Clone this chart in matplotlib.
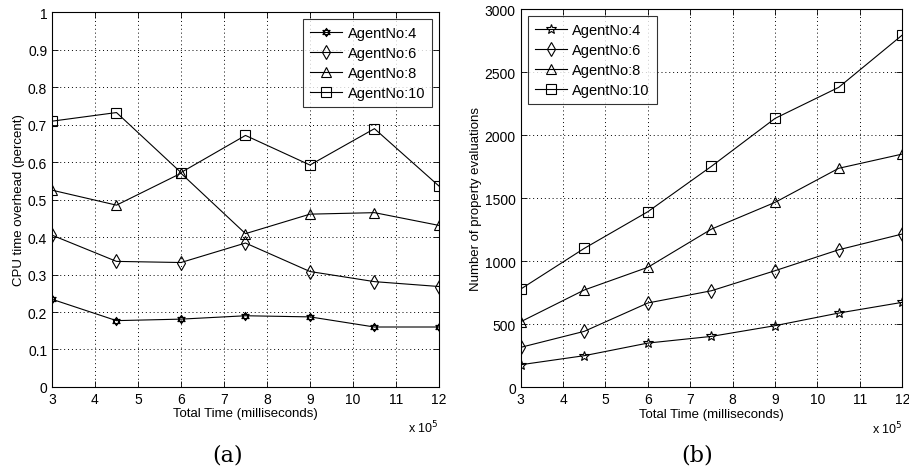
import numpy as np
import matplotlib
matplotlib.use("Agg")
import matplotlib.pyplot as plt
from matplotlib.path import Path

# temps total (x 10^5 ms)
temps = [3, 4.5, 6, 7.5, 9, 10.5, 12]
agents = ["AgentNo:4", "AgentNo:6", "AgentNo:8", "AgentNo:10"]

# (a) surcout CPU
cpu_4 = [0.234, 0.177, 0.181, 0.190, 0.187, 0.160, 0.160]
cpu_6 = [0.405, 0.335, 0.332, 0.384, 0.308, 0.281, 0.268]
cpu_8 = [0.525, 0.485, 0.570, 0.409, 0.461, 0.465, 0.431]
cpu_10 = [0.709, 0.732, 0.572, 0.671, 0.592, 0.689, 0.536]

# (b) nombre d'evaluations
eval_4 = [179, 251, 351, 404, 489, 589, 674]
eval_6 = [317, 444, 669, 766, 925, 1091, 1216]
eval_8 = [520, 772, 952, 1255, 1467, 1737, 1850]
eval_10 = [779, 1102, 1393, 1753, 2133, 2379, 2794]

# hexagramme facon matlab
tri1 = [(0, 1), (0.866, -0.5), (-0.866, -0.5), (0, 1)]
tri2 = [(0, -1), (0.866, 0.5), (-0.866, 0.5), (0, -1)]
hexa = Path(tri1 + tri2, [Path.MOVETO, Path.LINETO, Path.LINETO, Path.CLOSEPOLY] * 2)

plt.rcParams["font.family"] = ["Liberation Sans Narrow", "Liberation Sans", "DejaVu Sans"]
plt.rcParams["font.size"] = 9

fig = plt.figure(figsize=(9.09, 4.77), dpi=100)
ax1 = fig.add_axes([0.0572, 0.1866, 0.4257, 0.786])
ax2 = fig.add_axes([0.5728, 0.1859, 0.4198, 0.793])


def trace(ax, series, markers, tailles):
    for vals, m, ms, lab in zip(series, markers, tailles, agents):
        ax.plot(temps, vals, color="black", lw=0.8, marker=m, markersize=ms,
                markerfacecolor="none", markeredgecolor="black", markeredgewidth=0.8, label=lab)
    ax.set_xlim(3, 12)
    ax.set_xticks(range(3, 13))
    ax.grid(True, color="black", linestyle=(0, (1, 3)), lw=0.7)
    ax.tick_params(direction="in", length=4, width=0.6, top=True, right=True, labelsize=10)
    for s in ax.spines.values():
        s.set_linewidth(0.8)
    ax.set_xlabel("Total Time (milliseconds)", fontsize=9.5, labelpad=1)
    ax.text(1.0, -0.085, r"x 10$^5$", transform=ax.transAxes, ha="right", va="top", fontsize=9)
    leg_loc = "upper right" if ax is ax1 else "upper left"
    leg = ax.legend(loc=leg_loc, fancybox=False, edgecolor="black", fontsize=10.5, handlelength=2.2,
                    handletextpad=0.4, borderaxespad=0.5, labelspacing=0.42, borderpad=0.45)
    leg.get_frame().set_linewidth(0.8)


trace(ax1, [cpu_4, cpu_6, cpu_8, cpu_10], [hexa, "d", "^", "s"], [6, 7, 7, 7])
ax1.set_ylim(0, 1)
ax1.set_yticks(np.arange(0, 1.01, 0.1))
ax1.set_yticklabels(["0", "0.1", "0.2", "0.3", "0.4", "0.5", "0.6", "0.7", "0.8", "0.9", "1"])
ax1.set_ylabel("CPU time overhead (percent)", fontsize=9.5, labelpad=2)

trace(ax2, [eval_4, eval_6, eval_8, eval_10], ["*", "d", "^", "s"], [7, 7, 7, 7])
ax2.set_ylim(0, 3000)
ax2.set_yticks(range(0, 3001, 500))
ax2.set_ylabel("Number of property evaluations", fontsize=9.5, labelpad=2)

fig.text(0.25, 0.045, "(a)", ha="center", va="center", fontsize=16, family="DejaVu Serif")
fig.text(0.767, 0.045, "(b)", ha="center", va="center", fontsize=16, family="DejaVu Serif")

fig.savefig("out.png", dpi=100)
